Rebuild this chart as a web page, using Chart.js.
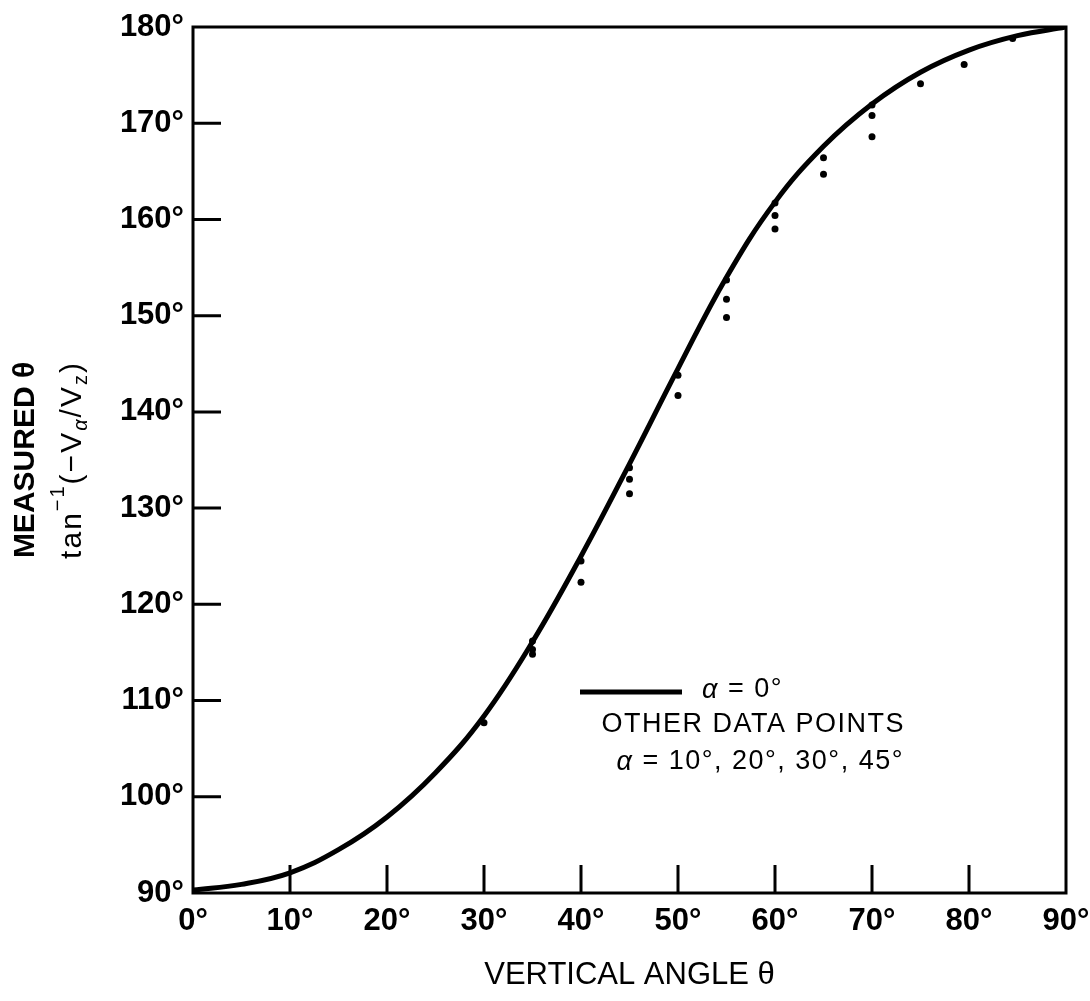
<html>
<head>
<script src="https://cdn.jsdelivr.net/npm/chart.js@4.4.1/dist/chart.umd.min.js"></script>
<style>
body { margin: 0; background: #ffffff; }
#box { width: 1090px; height: 1001px; }
</style>
</head>
<body>
<div id="box"><canvas id="angleChart"></canvas></div>
<script>
// alpha = 0 curve: vertical angle vs measured angle (deg)
var curveAngles = [0, 5, 10, 15, 20, 25, 30, 35, 40, 45, 50, 55, 60, 65, 70, 75, 80, 85, 90];
var curveMeasured = [90.3, 90.9, 92.1, 94.5, 97.9, 102.5, 108.4, 116.1, 125.0, 134.6, 144.5, 154.0, 161.8, 167.6, 172.0, 175.3, 177.6, 179.1, 180.0];

// other data points, alpha = 10, 20, 30, 45
var pointAngles = [30, 35, 35, 35, 40, 40, 45, 45, 45, 50, 50, 55, 55, 55, 60, 60, 60, 65, 65, 70, 70, 70, 75, 79.5, 84.5];
var pointMeasured = [107.7, 116.2, 115.3, 114.8, 124.5, 122.3, 134.2, 133.0, 131.5, 143.8, 141.7, 153.7, 151.7, 149.8, 161.7, 160.4, 159.0, 166.4, 164.7, 171.9, 170.8, 168.6, 174.1, 176.1, 178.8];

var xTicks = [0, 10, 20, 30, 40, 50, 60, 70, 80, 90];
var yTicks = [90, 100, 110, 120, 130, 140, 150, 160, 170, 180];

var fontFam = "'Liberation Sans', Arial, Helvetica, sans-serif";

function toPoints(xs, ys) {
  var out = [];
  for (var i = 0; i < xs.length; i++) out.push({x: xs[i], y: ys[i]});
  return out;
}

// box round the plot, inward tick marks, legend and the tan-1 line of the y title
var framePlugin = {
  id: 'frame',
  afterDraw: function(chart) {
    var ctx = chart.ctx;
    var a = chart.chartArea;
    var xs = chart.scales.x, ys = chart.scales.y;
    ctx.save();
    ctx.strokeStyle = '#000';
    ctx.lineWidth = 3;
    ctx.strokeRect(a.left, a.top, a.right - a.left, a.bottom - a.top);

    ctx.beginPath();
    for (var i = 1; i < xTicks.length - 1; i++) {
      var px = xs.getPixelForValue(xTicks[i]);
      ctx.moveTo(px, a.bottom);
      ctx.lineTo(px, a.bottom - 28);
    }
    for (var j = 1; j < yTicks.length - 1; j++) {
      var py = ys.getPixelForValue(yTicks[j]);
      ctx.moveTo(a.left, py);
      ctx.lineTo(a.left + 28, py);
    }
    ctx.stroke();

    // legend
    var lx = a.left + 387, ly = a.top + 665;
    ctx.lineWidth = 5;
    ctx.beginPath();
    ctx.moveTo(lx, ly);
    ctx.lineTo(lx + 102, ly);
    ctx.stroke();

    ctx.fillStyle = '#000';
    ctx.textBaseline = 'middle';
    ctx.letterSpacing = '1.5px';
    ctx.textAlign = 'left';
    ctx.font = 'italic 27px ' + fontFam;
    ctx.fillText('\u03b1', lx + 122, ly - 2);
    var aw = ctx.measureText('\u03b1').width;
    ctx.font = '27px ' + fontFam;
    ctx.fillText(' = 0\u00b0', lx + 122 + aw, ly - 2);

    ctx.textAlign = 'right';
    ctx.fillText('OTHER DATA POINTS', a.left + 712, ly + 33);
    ctx.fillText(' = 10\u00b0, 20\u00b0, 30\u00b0, 45\u00b0', a.left + 711, ly + 70);
    var rest = ctx.measureText(' = 10\u00b0, 20\u00b0, 30\u00b0, 45\u00b0').width;
    ctx.font = 'italic 27px ' + fontFam;
    ctx.fillText('\u03b1', a.left + 711 - rest, ly + 70);
    ctx.restore();

    // second line of the y title: tan-1(-Va/Vz)
    var parts = [
      ['tan', '30px', 0],
      ['\u22121', '20px', -17],
      ['(\u2212V', '30px', 0],
      ['\u03b1', 'italic 20px', 6],
      ['/V', '30px', 0],
      ['z', '20px', 6],
      [')', '30px', 0]
    ];
    ctx.save();
    ctx.fillStyle = '#000';
    ctx.textBaseline = 'alphabetic';
    ctx.textAlign = 'left';
    ctx.letterSpacing = '2px';
    var total = 0;
    for (var k = 0; k < parts.length; k++) {
      ctx.font = parts[k][1] + ' ' + fontFam;
      total += ctx.measureText(parts[k][0]).width;
    }
    ctx.translate(81, (a.top + a.bottom) / 2);
    ctx.rotate(-Math.PI / 2);
    var cx = -total / 2;
    for (var m = 0; m < parts.length; m++) {
      ctx.font = parts[m][1] + ' ' + fontFam;
      ctx.fillText(parts[m][0], cx, parts[m][2]);
      cx += ctx.measureText(parts[m][0]).width;
    }
    ctx.restore();
  }
};

var ctxA = document.getElementById('angleChart').getContext('2d');
var chart = new Chart(ctxA, {
  type: 'scatter',
  data: {
    datasets: [{
      label: '\u03b1 = 0\u00b0',
      data: toPoints(curveAngles, curveMeasured),
      showLine: true,
      borderColor: '#000',
      borderWidth: 5,
      pointRadius: 0,
      tension: 0.4,
      fill: false
    }, {
      label: 'other data points',
      data: toPoints(pointAngles, pointMeasured),
      showLine: false,
      pointRadius: 3.5,
      pointBorderWidth: 0,
      backgroundColor: '#000',
      borderColor: '#000'
    }]
  },
  options: {
    responsive: true,
    maintainAspectRatio: false,
    animation: false,
    layout: { padding: { top: 27, right: 24, left: 0, bottom: 0 } },
    plugins: {
      legend: { display: false },
      tooltip: { enabled: false }
    },
    scales: {
      x: {
        type: 'linear',
        min: 0,
        max: 90,
        grid: { display: false, drawTicks: false },
        border: { display: false },
        afterBuildTicks: function(s) { s.ticks = xTicks.map(function(v) { return {value: v}; }); },
        afterFit: function(s) { s.height = 108; s.paddingLeft = 0; s.paddingRight = 0; },
        ticks: {
          color: '#000',
          padding: 10,
          font: { family: fontFam, size: 31, weight: 'bold' },
          callback: function(v) { return v + '\u00b0'; }
        },
        title: {
          display: true,
          text: 'VERTICAL ANGLE \u03b8',
          color: '#000',
          font: { family: fontFam, size: 31 },
          padding: { top: 0, bottom: 7 }
        }
      },
      y: {
        type: 'linear',
        min: 90,
        max: 180,
        grid: { display: false, drawTicks: false },
        border: { display: false },
        afterBuildTicks: function(s) { s.ticks = yTicks.map(function(v) { return {value: v}; }); },
        afterFit: function(s) { s.width = 193; s.paddingTop = 0; s.paddingBottom = 0; },
        ticks: {
          color: '#000',
          padding: 9,
          font: { family: fontFam, size: 31, weight: 'bold' },
          callback: function(v) { return v + '\u00b0'; }
        },
        title: {
          display: true,
          text: 'MEASURED \u03b8',
          color: '#000',
          font: { family: fontFam, size: 30, weight: 'bold' },
          padding: { top: 8, bottom: 0 }
        }
      }
    }
  },
  plugins: [framePlugin]
});
</script>
</body>
</html>
